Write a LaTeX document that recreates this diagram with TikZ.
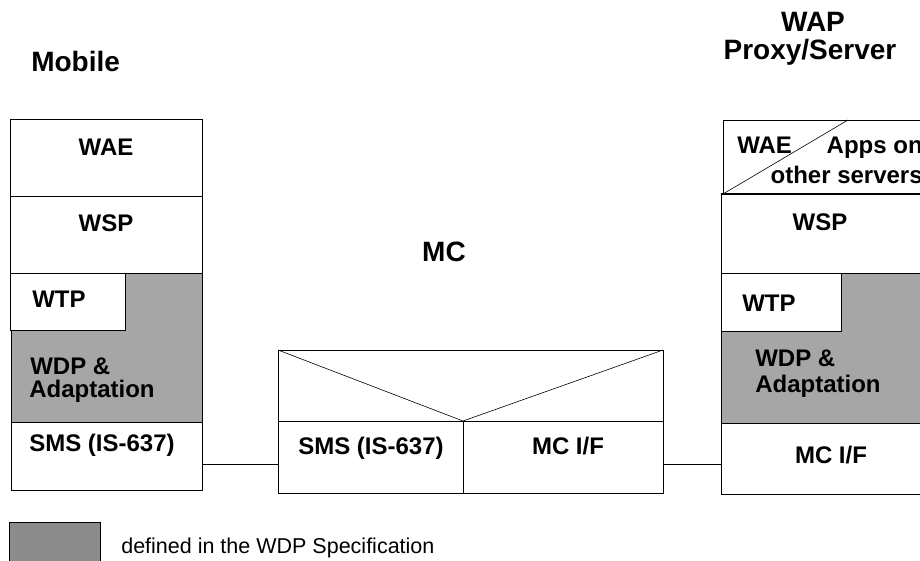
\documentclass[tikz,border=0pt]{standalone}
\usepackage{fontspec}
\setmainfont{Liberation Sans}
\usepackage{tikz}
\usetikzlibrary{positioning}
\definecolor{wdpgray}{RGB}{166,166,166}
\definecolor{keygray}{RGB}{140,140,140}

\begin{document}
\begin{tikzpicture}[x=1pt,y=-1pt,line width=1pt,semithick]
\tikzstyle{layer}=[draw=black,fill=white,rectangle,anchor=north west,inner sep=0pt,outer sep=0pt,line width=1pt]
\tikzstyle{wdp}=[layer,fill=wdpgray]
\tikzstyle{lbl}=[inner sep=0pt,anchor=base,font=\fontsize{24}{28}\selectfont\bfseries]
\tikzstyle{ttl}=[inner sep=0pt,anchor=base,font=\fontsize{28}{32}\selectfont\bfseries]
\useasboundingbox (0,0) rectangle (920,560);
\clip (0,0) rectangle (920,560);
\node[ttl,anchor=base west] (Mob) at (31,71) {Mobile};
\node[ttl] (Wap) at (813,31) {WAP};
\node[ttl] (Prx) at (810,59) {Proxy/Server};
\node[ttl] (Mc) at (444,261) {MC};
\node[layer,minimum width=192,minimum height=77] (mwae) at (10,119) {};
\node[layer,minimum width=192,minimum height=77] (mwsp) at (10,196) {};
\node[wdp,minimum width=191,minimum height=149] (mwdp) at (11,273) {};
\node[layer,minimum width=115,minimum height=57] (mwtp) at (10,273) {};
\node[layer,minimum width=191,minimum height=68] (msms) at (11,422) {};
\node[lbl] at (106,155) {WAE};
\node[lbl] at (106,231) {WSP};
\node[lbl,anchor=base west] at (32,307) {WTP};
\node[lbl,anchor=base west] at (30,374) {WDP \&};
\node[lbl,anchor=base west] at (29,397) {Adaptation};
\node[lbl,anchor=base west] at (29,451) {SMS (IS-637)};
\node[layer,minimum width=385,minimum height=71] (mctop) at (278,350) {};
\node[layer,minimum width=185,minimum height=72] (mcsms) at (278,421) {};
\node[layer,minimum width=200,minimum height=72] (mcif) at (463,421) {};
\draw (mctop.north west) -- (mcsms.north east) -- (mctop.north east);
\node[lbl] at (371,454) {SMS (IS-637)};
\node[lbl] at (568,454) {MC I/F};
\node[layer,minimum width=210,minimum height=74] (swae) at (723,120) {};
\draw (swae.south west) -- ([xshift=125pt]swae.north west);
\node[layer,minimum width=210,minimum height=79] (swsp) at (721,194) {};
\draw[line width=2pt] (swsp.north west) -- (swsp.north east);
\node[wdp,minimum width=210,minimum height=150] (swdp) at (721,273) {};
\node[layer,minimum width=120,minimum height=58] (swtp) at (721,273) {};
\node[layer,minimum width=210,minimum height=71] (sif) at (721,423) {};
\node[lbl,anchor=base west] at (737,153) {WAE};
\node[lbl,anchor=base east] at (923,153) {Apps on};
\node[lbl,anchor=base east] at (923,183) {other servers};
\node[lbl] at (820,230) {WSP};
\node[lbl,anchor=base west] at (742,311) {WTP};
\node[lbl,anchor=base west] at (755,366) {WDP \&};
\node[lbl,anchor=base west] at (755,392) {Adaptation};
\node[lbl] at (831,463) {MC I/F};
\draw ([yshift=-8pt]msms.east) -- ([yshift=-8pt]msms.east -| mcsms.west);
\draw ([yshift=-6pt]sif.west) -- ([yshift=-6pt]sif.west -| mcif.east);
\node[layer,fill=keygray,minimum width=91,minimum height=50] (key) at (9,522) {};
\node[inner sep=0pt,anchor=base west,font=\fontsize{21.5}{25}\selectfont] (keytxt) at (121,553) {defined in the WDP Specification};
\end{tikzpicture}
\end{document}
